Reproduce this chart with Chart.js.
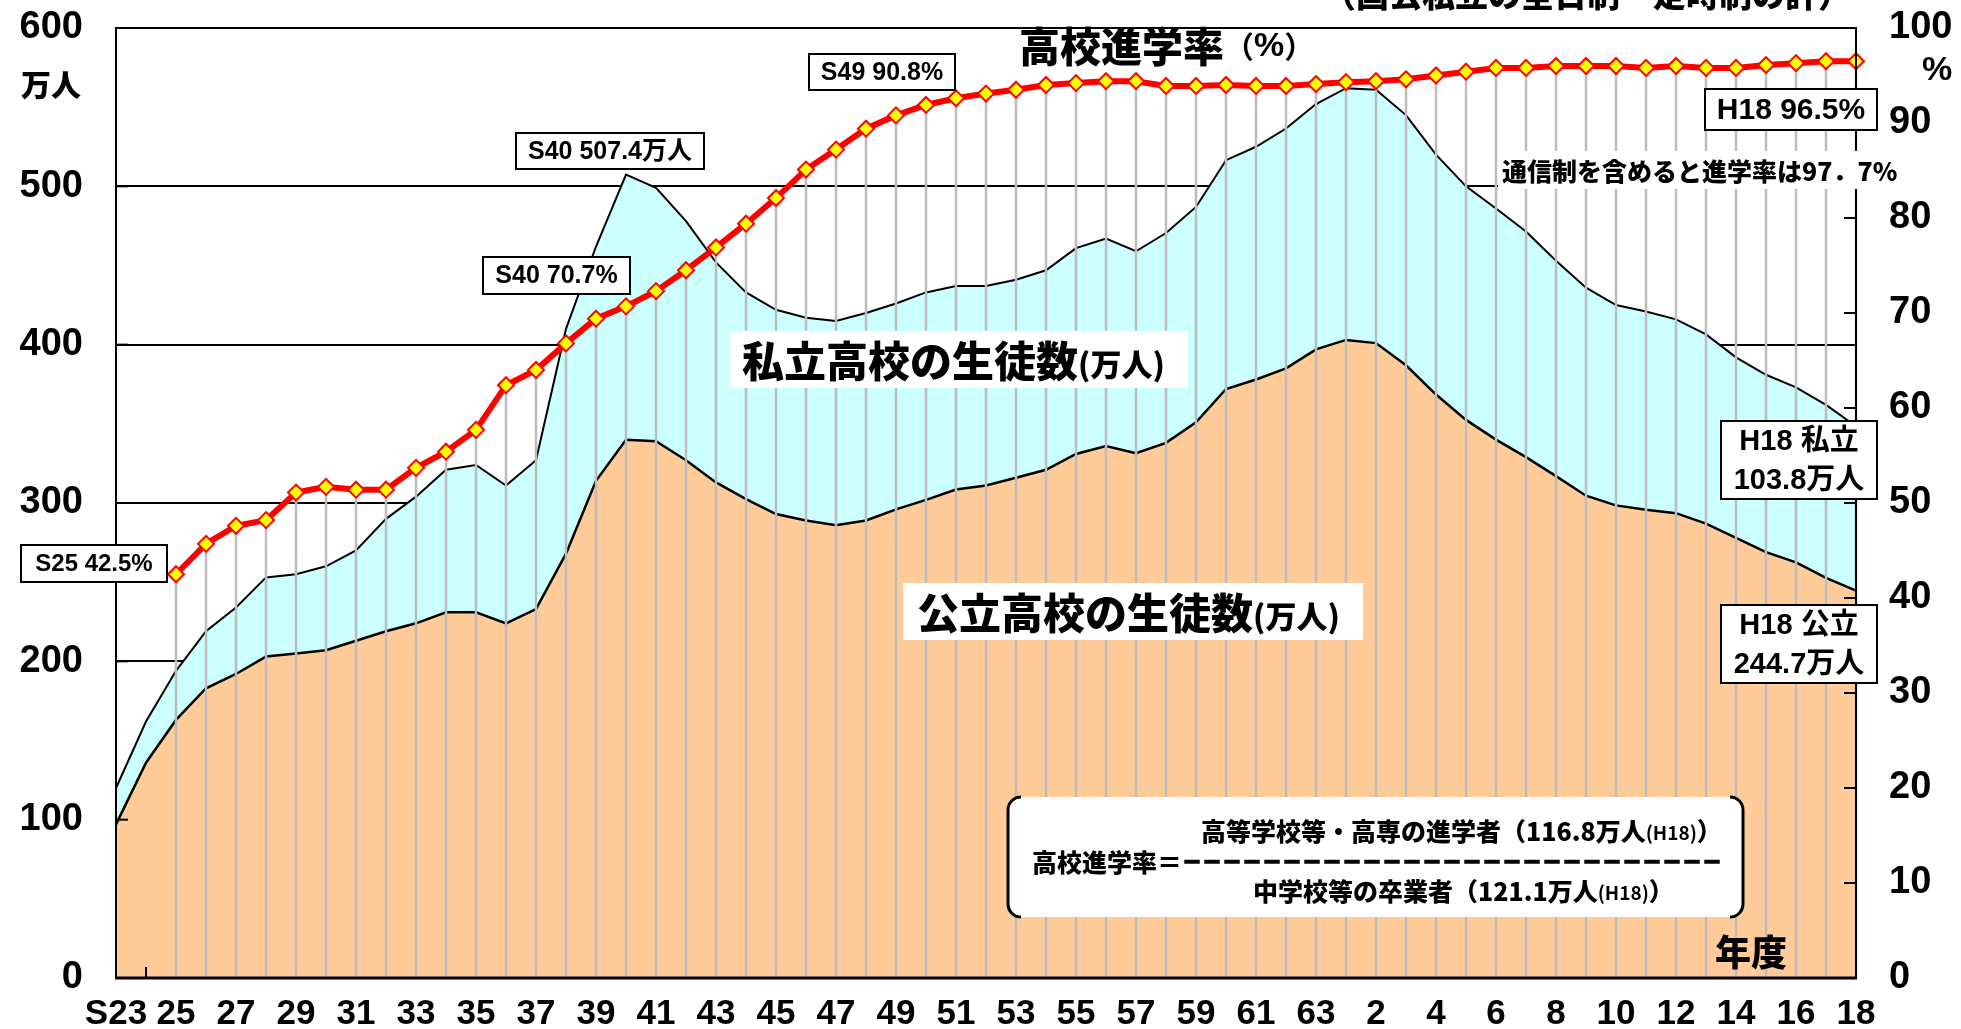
<!DOCTYPE html>
<html>
<head>
<meta charset="utf-8">
<script src="https://cdn.jsdelivr.net/npm/chart.js@4/dist/chart.umd.min.js"></script>
<style>
  html, body { margin: 0; padding: 0; background: #fff; }
  #wrap { width: 1961px; height: 1029px; }
</style>
</head>
<body>
<div id="wrap"><canvas id="chart" width="1961" height="1029"></canvas></div>
<script>

  /* ===================== DATA ===================== */

  // 年度 S23 .. S63, H1 .. H18
  const years = [
    'S23', 'S24', 'S25', 'S26', 'S27', 'S28', 'S29', 'S30', 'S31', 'S32',
    'S33', 'S34', 'S35', 'S36', 'S37', 'S38', 'S39', 'S40', 'S41', 'S42',
    'S43', 'S44', 'S45', 'S46', 'S47', 'S48', 'S49', 'S50', 'S51', 'S52',
    'S53', 'S54', 'S55', 'S56', 'S57', 'S58', 'S59', 'S60', 'S61', 'S62',
    'S63', 'H1', 'H2', 'H3', 'H4', 'H5', 'H6', 'H7', 'H8', 'H9',
    'H10', 'H11', 'H12', 'H13', 'H14', 'H15', 'H16', 'H17', 'H18'
  ];

  // shown under every second year
  const tickLabels = [
    'S23', '25', '27', '29', '31', '33', '35', '37', '39', '41',
    '43', '45', '47', '49', '51', '53', '55', '57', '59', '61',
    '63', '2', '4', '6', '8', '10', '12', '14', '16', '18'
  ];

  // 公立高校の生徒数 (万人)
  const publicStudents = [
    97, 136, 163, 183, 192, 203, 205, 207, 213, 219,
    224, 231, 231, 224, 233, 268, 314, 340, 339, 327,
    313, 302.5, 293, 289, 286, 289, 296, 302, 308.5, 311,
    316, 321, 331, 336, 331.5, 338, 351, 372, 378, 385,
    397, 403, 401, 387, 368.5, 352.5, 340, 329, 317, 304.6,
    298.5, 295.8, 293.6, 287, 278, 269, 262.5, 252.7, 244.7
  ];

  // 私立高校の生徒数 (万人)
  const privateStudents = [
    23, 26, 31, 36, 42, 50, 50, 53, 57, 71,
    80, 90, 93, 87, 94, 142, 148, 167.4, 160, 151,
    139, 130.5, 129, 128, 129, 131, 130, 131, 128.5, 126,
    125, 126, 130, 131, 127.5, 132.5, 136, 144.5, 147, 151.5,
    155, 159, 160, 158, 151.5, 147.5, 146, 142.5, 136, 131.4,
    126.5, 125.2, 122.4, 119.5, 114, 112, 110.5, 109.3, 103.8
  ];

  // 高校進学率 (%)
  const advanceRate = [
    null, null, 42.5, 45.7, 47.6, 48.2, 51.1, 51.7, 51.4, 51.4,
    53.7, 55.4, 57.7, 62.4, 64.0, 66.8, 69.4, 70.7, 72.3, 74.5,
    76.9, 79.4, 82.1, 85.1, 87.2, 89.4, 90.8, 91.9, 92.6, 93.1,
    93.5, 94.0, 94.2, 94.4, 94.4, 93.9, 93.9, 94.0, 93.9, 93.9,
    94.1, 94.3, 94.4, 94.6, 95.0, 95.4, 95.8, 95.8, 96.0, 96.0,
    96.0, 95.8, 96.0, 95.8, 95.8, 96.1, 96.3, 96.5, 96.5
  ];

  /* ===================== FONTS ===================== */

  const LATIN = '"Liberation Sans", "Noto Sans CJK JP", sans-serif';
  const CJK = '"Noto Sans CJK JP", "Liberation Sans", sans-serif';

  /* ===================== HELPERS ===================== */

  function labelBox(ctx, x1, y1, x2, y2, lines, size) {
    ctx.fillStyle = '#fff';
    ctx.fillRect(x1, y1, x2 - x1, y2 - y1);
    ctx.strokeStyle = '#000';
    ctx.lineWidth = 2;
    ctx.strokeRect(x1, y1, x2 - x1, y2 - y1);
    ctx.fillStyle = '#000';
    ctx.font = `700 ${size}px ${LATIN}`;
    ctx.textAlign = 'center';
    ctx.textBaseline = 'middle';
    let step = (y2 - y1) / lines.length;
    lines.forEach((t, i) => ctx.fillText(t, (x1 + x2) / 2, y1 + step * (i + 0.5) + 1));
  }

  // draws [text, font, dy, stroke] pieces one after another on a middle line
  function runs(ctx, x, y, parts) {
    ctx.fillStyle = '#000';
    ctx.strokeStyle = '#000';
    ctx.textAlign = 'left';
    ctx.textBaseline = 'middle';
    parts.forEach(([t, f, dy, sw]) => {
      ctx.font = f;
      ctx.fillText(t, x, y + (dy || 0));
      if (sw) {
        ctx.lineWidth = sw;
        ctx.strokeText(t, x, y + (dy || 0));
      }
      x += ctx.measureText(t).width;
    });
  }

  // keep the plot area exactly where the layout puts it
  function noPad(s) {
    s.paddingTop = 0;
    s.paddingBottom = 0;
    s.paddingLeft = 0;
    s.paddingRight = 0;
  }

  /* ===================== OVERLAY ===================== */

  const overlay = {
    id: 'overlay',

    beforeDatasetDraw(chart, args) {
      if (args.index !== 2) return;
      let { ctx, chartArea } = chart;
      let xs = chart.scales.x;
      ctx.save();

      // x ticks pointing inward
      ctx.strokeStyle = '#000';
      ctx.lineWidth = 2;
      years.forEach((_, i) => {
        let x = xs.getPixelForValue(i);
        ctx.beginPath();
        ctx.moveTo(x, chartArea.bottom);
        ctx.lineTo(x, chartArea.bottom - 11);
        ctx.stroke();
      });

      // drop lines from the rate points
      let meta = chart.getDatasetMeta(2);
      ctx.strokeStyle = '#bdbdbd';
      ctx.lineWidth = 2.5;
      meta.data.forEach((pt, i) => {
        if (advanceRate[i] == null) return;
        ctx.beginPath();
        ctx.moveTo(pt.x, pt.y);
        ctx.lineTo(pt.x, chartArea.bottom);
        ctx.stroke();
      });
      ctx.restore();
    },

    afterDatasetsDraw(chart) {
      let { ctx, chartArea: a } = chart;
      let y = chart.scales.y, y2 = chart.scales.y2;
      ctx.save();

      // frame
      ctx.strokeStyle = '#000';
      ctx.lineWidth = 2;
      ctx.beginPath();
      ctx.moveTo(a.left, a.bottom);
      ctx.lineTo(a.left, a.top);
      ctx.lineTo(a.right, a.top);
      ctx.lineTo(a.right, a.bottom);
      ctx.stroke();
      ctx.lineWidth = 3;
      ctx.beginPath();
      ctx.moveTo(a.left - 1, a.bottom);
      ctx.lineTo(a.right + 1, a.bottom);
      ctx.stroke();

      // inward ticks
      ctx.lineWidth = 2;
      for (let v = 0; v <= 600; v += 100) {
        let py = y.getPixelForValue(v);
        ctx.beginPath(); ctx.moveTo(a.left, py); ctx.lineTo(a.left + 12, py); ctx.stroke();
      }
      for (let v = 0; v <= 100; v += 10) {
        let py = y2.getPixelForValue(v);
        ctx.beginPath(); ctx.moveTo(a.right, py); ctx.lineTo(a.right - 12, py); ctx.stroke();
      }

      // subtitle, cut at the top edge
      ctx.fillStyle = '#000';
      ctx.font = `900 33px ${CJK}`;
      ctx.textAlign = 'left';
      ctx.textBaseline = 'alphabetic';
      ctx.fillText('（国公私立の全日制・定時制の計）', 1323, 7);

      // axis units
      ctx.textAlign = 'center';
      ctx.textBaseline = 'middle';
      ctx.font = `900 30px ${CJK}`;
      ctx.fillText('万人', 51, 85);
      ctx.font = `700 34px ${LATIN}`;
      ctx.fillText('%', 1937, 71);
      ctx.font = `900 36px ${CJK}`;
      ctx.fillText('年度', 1751, 952);

      // rate title
      runs(ctx, 1019, 46, [
        ['高校進学率', `900 41px ${CJK}`],
        ['（', `700 30px ${CJK}`, 1],
        ['%', `700 34px ${LATIN}`, 1],
        ['）', `700 30px ${CJK}`, 1]
      ]);

      // big area labels
      ctx.fillStyle = '#fff';
      ctx.fillRect(730, 331, 458, 57);
      runs(ctx, 742, 361, [
        ['私立高校の生徒数', `900 42px ${CJK}`],
        ['(万人)', `900 31px ${CJK}`, 3]
      ]);
      ctx.fillStyle = '#fff';
      ctx.fillRect(903, 583, 460, 57);
      runs(ctx, 917, 613, [
        ['公立高校の生徒数', `900 42px ${CJK}`],
        ['(万人)', `900 31px ${CJK}`, 3]
      ]);

      // note on correspondence courses
      ctx.fillStyle = '#fff';
      ctx.fillRect(1498, 151, 388, 38);
      runs(ctx, 1502, 171, [['通信制を含めると進学率は97．7%', `900 25px ${CJK}`]]);

      // value boxes
      labelBox(ctx, 21, 545, 167, 582, ['S25 42.5%'], 24);
      labelBox(ctx, 483, 257, 630, 294, ['S40 70.7%'], 25);
      labelBox(ctx, 516, 133, 704, 169, ['S40 507.4万人'], 25);
      labelBox(ctx, 809, 54, 955, 90, ['S49 90.8%'], 25);
      labelBox(ctx, 1705, 89, 1877, 130, ['H18 96.5%'], 30);
      labelBox(ctx, 1721, 421, 1877, 499, ['H18 私立', '103.8万人'], 29);
      labelBox(ctx, 1721, 605, 1877, 683, ['H18 公立', '244.7万人'], 29);

      // formula box with bracket sides
      let bx1 = 1008, bx2 = 1743, by1 = 797, by2 = 917, r = 13;
      ctx.fillStyle = '#fff';
      ctx.beginPath();
      ctx.roundRect(bx1, by1, bx2 - bx1, by2 - by1, r);
      ctx.fill();
      ctx.strokeStyle = '#000';
      ctx.lineWidth = 3;
      ctx.beginPath();
      ctx.moveTo(bx1 + r, by1);
      ctx.arcTo(bx1, by1, bx1, by1 + r, r);
      ctx.lineTo(bx1, by2 - r);
      ctx.arcTo(bx1, by2, bx1 + r, by2, r);
      ctx.moveTo(bx2 - r, by1);
      ctx.arcTo(bx2, by1, bx2, by1 + r, r);
      ctx.lineTo(bx2, by2 - r);
      ctx.arcTo(bx2, by2, bx2 - r, by2, r);
      ctx.stroke();

      runs(ctx, 1201, 831, [
        ['高等学校等・高専の進学者（116.8万人', `900 25px ${CJK}`],
        ['(H18)', `700 19px ${CJK}`, 2],
        ['）', `900 25px ${CJK}`]
      ]);
      runs(ctx, 1032, 862, [
        ['高校進学率＝', `900 25px ${CJK}`],
        ['－'.repeat(27), `900 20px ${CJK}`, 0, 1.5]
      ]);
      runs(ctx, 1253, 891, [
        ['中学校等の卒業者（121.1万人', `900 25px ${CJK}`],
        ['(H18)', `700 19px ${CJK}`, 2],
        ['）', `900 25px ${CJK}`]
      ]);

      ctx.restore();
    }
  };

  /* ===================== CHART ===================== */

  new Chart(document.getElementById('chart').getContext('2d'), {
    type: 'line',
    data: {
      labels: years,
      datasets: [{
        label: '公立高校の生徒数',
        data: publicStudents,
        yAxisID: 'y',
        fill: 'origin',
        backgroundColor: '#FFCC99',
        borderColor: '#000',
        borderWidth: 2.5,
        pointRadius: 0,
        tension: 0,
        order: 1
      }, {
        label: '私立高校の生徒数',
        data: privateStudents,
        yAxisID: 'y',
        fill: '-1',
        backgroundColor: '#CCFFFF',
        borderColor: '#000',
        borderWidth: 2,
        pointRadius: 0,
        tension: 0,
        order: 2
      }, {
        label: '高校進学率',
        data: advanceRate,
        yAxisID: 'y2',
        fill: false,
        borderColor: '#FF0000',
        borderWidth: 6,
        pointStyle: 'rectRot',
        pointRadius: 8,
        pointBackgroundColor: '#FFFF00',
        pointBorderColor: '#FF0000',
        pointBorderWidth: 2,
        tension: 0,
        order: 0
      }]
    },
    options: {
      responsive: false,
      animation: false,
      devicePixelRatio: 1,
      layout: { padding: { top: 28, left: 0, right: 0, bottom: 0 } },
      plugins: { legend: { display: false }, tooltip: { enabled: false } },
      scales: {
        x: {
          offset: false,
          grid: { display: false, drawTicks: false },
          border: { display: false },
          ticks: {
            autoSkip: false,
            maxRotation: 0,
            padding: 15,
            color: '#000',
            font: { family: LATIN, size: 35, weight: 'bold' },
            callback: (v, i) => i % 2 === 0 ? tickLabels[i / 2] : ''
          },
          afterFit: s => { s.height = 51; noPad(s); }
        },
        y: {
          stacked: true,
          min: 0,
          max: 600,
          grid: { color: '#000', lineWidth: 2, drawTicks: false },
          border: { display: false },
          ticks: {
            stepSize: 100,
            padding: 33,
            color: '#000',
            font: { family: LATIN, size: 38, weight: 'bold' }
          },
          afterFit: s => { s.width = 116; noPad(s); }
        },
        y2: {
          position: 'right',
          min: 0,
          max: 100,
          grid: { display: false, drawTicks: false },
          border: { display: false },
          ticks: {
            stepSize: 10,
            padding: 33,
            color: '#000',
            font: { family: LATIN, size: 38, weight: 'bold' }
          },
          afterFit: s => { s.width = 105; noPad(s); }
        }
      }
    },
    plugins: [overlay]
  });

</script>
</body>
</html>
